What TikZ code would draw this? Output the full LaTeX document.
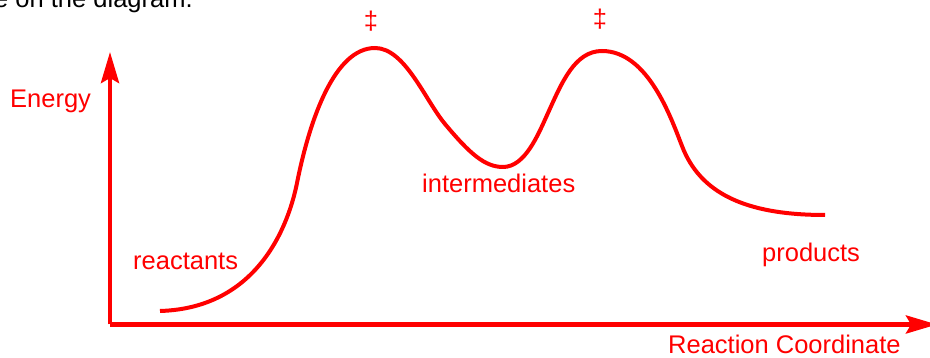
\documentclass[tikz,border=0pt]{standalone}
\usepackage{fontspec}
\setmainfont{Liberation Sans}
\usepackage{xcolor}
\usetikzlibrary{arrows.meta}
\definecolor{rxred}{HTML}{FF0000}
\tikzset{
  ax/.style={-{Stealth[length=31pt,width=18pt,inset=5pt]},line width=4.5pt,rxred},
  lbl/.style={rxred,inner sep=0pt,anchor=base west,font=\fontsize{25.5}{30}\selectfont}
}

\begin{document}
\begin{tikzpicture}[x=1pt,y=1pt]
\useasboundingbox (0,0) rectangle (930,358);
\clip (0,0) rectangle (930,358);
\node[lbl,black] (cap) at (-6,350) {e on the diagram.};
% axes
\coordinate (o) at (110,33.5);
\coordinate (ytip) at (110,306);
\coordinate (xtip) at (937,33.5);
\draw[ax] (o) -- (ytip);
\draw[ax] (o) -- (xtip);
\node[lbl] (energy) at (10,250) {Energy};
\node[lbl] (rxc) at (668,4) {Reaction Coordinate};
% energy profile
\draw[line width=4pt,rxred] (160,47) .. controls (265,50) and (291,145) .. (297,175)
  .. controls (310,240) and (335,310) .. (375,310)
  .. controls (405,310) and (425,258) .. (445,234)
  .. controls (470,204) and (485,191) .. (503,191)
  .. controls (525,191) and (538,223) .. (548,245)
  .. controls (562,276) and (575,307) .. (602,307)
  .. controls (648,307) and (671,240) .. (682,212)
  .. controls (700,165) and (745,143) .. (825,143);
\node[lbl] (reac) at (133,88) {reactants};
\node[lbl] (inter) at (422,165) {intermediates};
\node[lbl] (prod) at (762,96) {products};
\node[lbl,anchor=center] (ts1) at (371,337) {‡};
\node[lbl,anchor=center] (ts2) at (600,339) {‡};
\end{tikzpicture}
\end{document}
